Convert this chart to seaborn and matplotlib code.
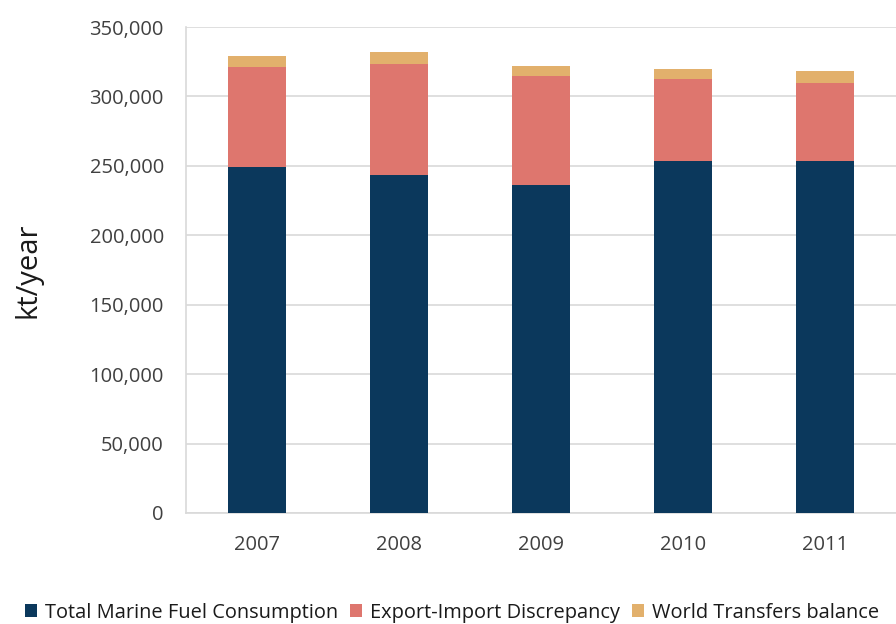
import pandas as pd
import matplotlib.pyplot as plt
import seaborn as sns
from matplotlib.patches import Patch
from matplotlib.ticker import FuncFormatter

sns.set_theme(style="white")
plt.rcParams['font.family'] = ['Open Sans', 'DejaVu Sans']

# Dados (kt/year)
years = ['2007', '2008', '2009', '2010', '2011']
marine_fuel = [249500, 243500, 236500, 253500, 253800]
export_import = [71700, 80100, 77900, 59100, 55900]
world_transfers = [8200, 8100, 7200, 7200, 8300]

series_names = ['Total Marine Fuel Consumption', 'Export-Import Discrepancy', 'World Transfers balance']
colors = ['#0B385C', '#DE766E', '#E2B06C']

df = pd.DataFrame({'year': years, 'fuel': marine_fuel,
                   'export': export_import, 'transfers': world_transfers})
df['top1'] = df['fuel']
df['top2'] = df['fuel'] + df['export']
df['top3'] = df['top2'] + df['transfers']

fig = plt.figure(figsize=(8.96, 6.24), dpi=100)
ax = fig.add_axes([0.2076, 0.1779, 0.7924, 0.7788])

# barras empilhadas: desenhar do total para a base
for col, color in zip(['top3', 'top2', 'top1'], colors[::-1]):
    sns.barplot(data=df, x='year', y=col, color=color, width=0.41,
                saturation=1, linewidth=0, ax=ax, zorder=3)

ax.set_ylim(0, 350000)
ax.set_xlim(-0.5, 4.5)
ax.set_yticks(range(0, 350001, 50000))
ax.yaxis.set_major_formatter(FuncFormatter(lambda v, p: f'{int(v):,}'))
ax.grid(axis='y', color='#D9D9D9', linewidth=1.2, zorder=0)
ax.set_axisbelow(True)
ax.set_xlabel('')
ax.set_ylabel('kt/year', fontsize=21, color='#1a1a1a', labelpad=34)
ax.tick_params(axis='both', length=0, labelsize=14.5, colors='#404040', pad=16)

for side in ['top', 'right']:
    ax.spines[side].set_visible(False)
for side in ['left', 'bottom']:
    ax.spines[side].set_color('#D9D9D9')
    ax.spines[side].set_linewidth(1.2)

handles = [Patch(facecolor=c, edgecolor='none') for c in colors]
fig.legend(handles, series_names, loc='center', bbox_to_anchor=(0.505, 0.018),
           ncol=3, frameon=False, fontsize=14.4, handlelength=0.6, handleheight=0.6,
           handletextpad=0.4, columnspacing=0.6, labelcolor='#1a1a1a')

fig.savefig('out.png', dpi=100)
